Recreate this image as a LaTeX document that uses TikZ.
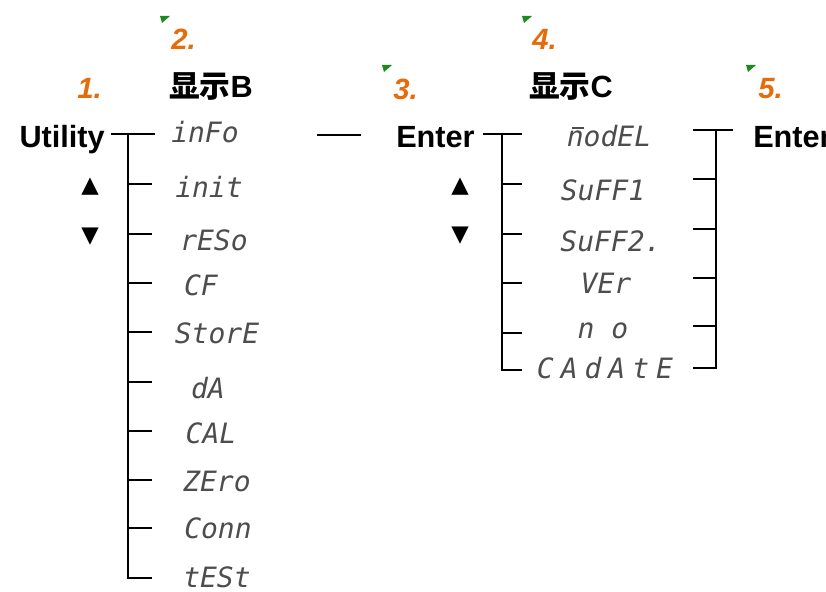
\documentclass[tikz,border=0pt]{standalone}
\usepackage{fontspec}
\setmainfont{Liberation Sans}
\newfontfamily\cjk{Noto Sans CJK SC}
\newfontfamily\lcdfont{DejaVu Sans Mono}
\newfontfamily\symb{DejaVu Sans}
\usetikzlibrary{positioning}
\definecolor{stepno}{HTML}{E46C0A}
\definecolor{flag}{HTML}{1E8A1E}
\definecolor{lcdgray}{HTML}{4D4D4D}
\newcommand{\barn}{\rlap{\hspace{0.2em}\raisebox{0.62em}{\rule{0.42em}{0.07em}}}n}

\begin{document}
\begin{tikzpicture}[x=0.75pt,y=-0.75pt,line width=1.9pt,
  key/.style={font=\fontsize{23}{27}\selectfont\bfseries,inner sep=0pt},
  num/.style={font=\fontsize{22}{26}\selectfont\bfseries\itshape,text=stepno,inner sep=0pt,anchor=base west},
  lcd/.style={font=\fontsize{21}{25}\selectfont\lcdfont\itshape,text=lcdgray,inner sep=0pt},
  arr/.style={font=\fontsize{17}{20}\selectfont\symb,inner sep=0pt},
  flagmark/.style={fill=flag,draw=none,line width=0pt}]
  \useasboundingbox (0,0) rectangle (826,592);
  \clip (0,0) rectangle (826,592);
  % headings and step numbers
  \node[num](n1) at (76,99){1.};
  \node[num](n2) at (170,50){2.};
  \node[num](n3) at (392,100){3.};
  \node[num](n4) at (531,50){4.};
  \node[num](n5) at (757,99){5.};
  \foreach \fx/\fy in {160/16,382/65,522/16,746/65}
    \fill[flagmark] (\fx,\fy) -- ++(10,0) -- ++(-8,7) -- cycle;
  \node[key,anchor=base west](dispB) at (168,98){{\cjk 显示}B};
  \node[key,anchor=base west](dispC) at (528,98){{\cjk 显示}C};
  \node[key,anchor=base east](util) at (106,148){Utility};
  \node[key,anchor=base west](ent1) at (395,148){Enter};
  \node[key,anchor=base west](ent2) at (752,147){Enter};
  \node[arr](upB) at (90,187){▲};
  \node[arr](dnB) at (90,237){▼};
  \node[arr](upC) at (460,187){▲};
  \node[arr](dnC) at (460,236){▼};
  % menu B
  \foreach \n/\lx/\ly/\t in {info/205/132/inFo,init/209/187/init,reso/214/240/rESo,
      cf/201/285/CF,store/217/333/StorE,da/208/388/dA,cal/211/433/CAL,
      zero/217/481/ZEro,conn/218/528/Conn,test/217/577/tESt}
    \node[lcd](\n) at (\lx,\ly){\t};
  \coordinate (busB) at (128,134);
  \draw (util.east |- busB) ++(5,0) -- ++(44,0);
  \draw (busB) -- ++(0,444) -- ++(24,0);
  \foreach \ty in {184,234,283,332,382,431,480,528}
    \draw (busB |- 0,\ty) -- ++(24,0);
  \coordinate (gapL) at (317,135);
  \coordinate (gapR) at (361,135);
  \draw (gapL) -- (gapR);
  % menu C
  \foreach \n/\lx/\ly/\t in {model/609/136/{\barn odEL},suff1/603/190/SuFF1,suff2/611/241/SuFF2.,
      ver/606/283/VEr,no/603/331/{\addfontfeatures{LetterSpace=60}no},
      cadate/605/368/{\addfontfeatures{LetterSpace=25}CAdAtE}}
    \node[lcd](\n) at (\lx,\ly){\t};
  \coordinate (busC) at (502,134);
  \draw (busC) ++(-19,0) -- ++(39,0);
  \draw (busC) -- ++(0,236) -- ++(20,0);
  \foreach \ty in {184,234,283,333}
    \draw (busC |- 0,\ty) -- ++(20,0);
  \coordinate (busR) at (716,130);
  \draw (busR) ++(-23,0) -- ++(40,0);
  \draw (busR) -- ++(0,238) -- ++(-23,0);
  \foreach \ty in {179,229,278,326}
    \draw (busR |- 0,\ty) -- ++(-23,0);
\end{tikzpicture}
\end{document}
